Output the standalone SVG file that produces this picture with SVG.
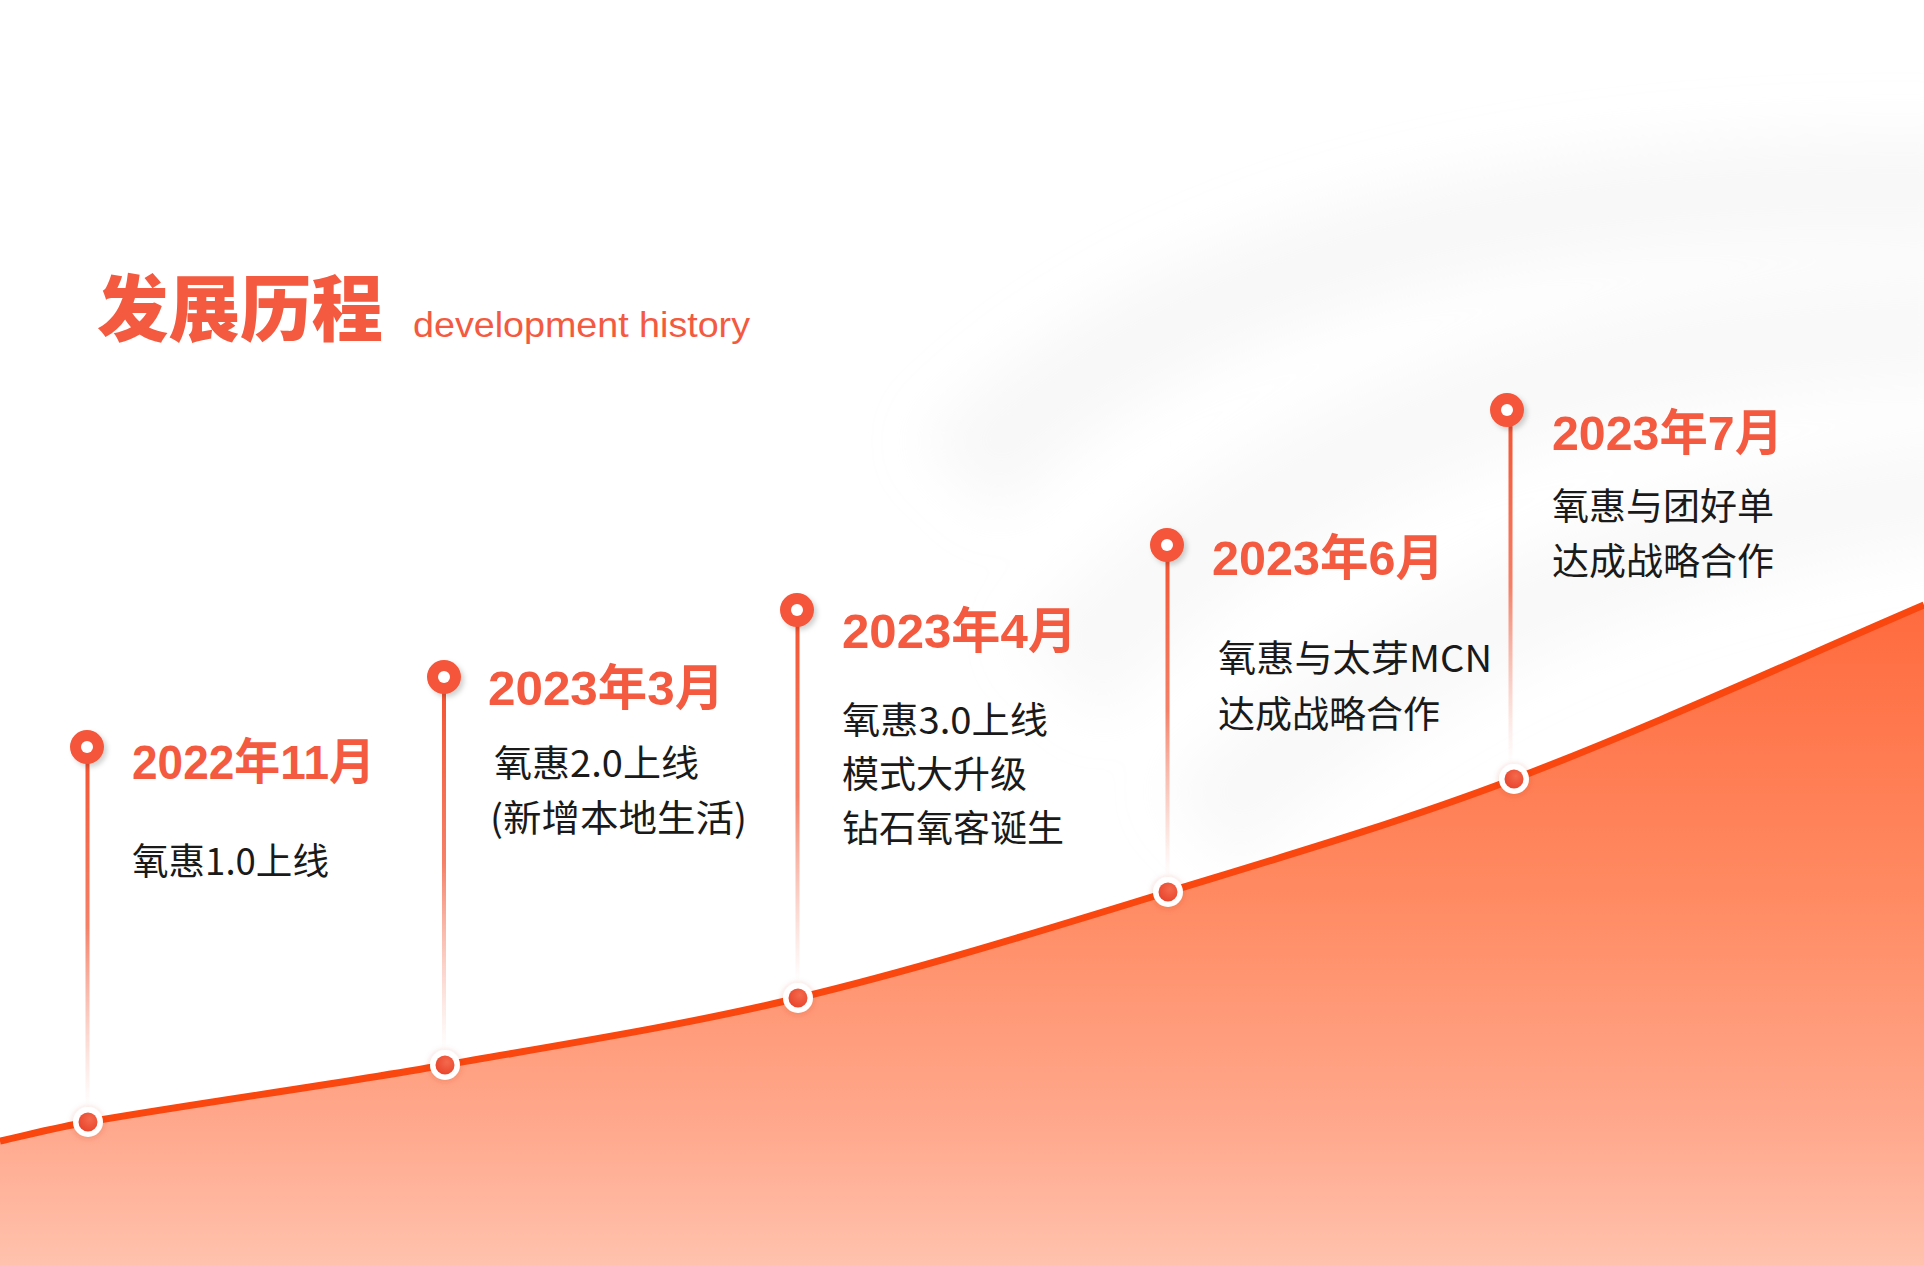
<svg xmlns="http://www.w3.org/2000/svg" width="1924" height="1265" viewBox="0 0 1924 1265">
  <defs>
    <style>
      .title { font-family: "Noto Sans CJK SC", "Liberation Sans", sans-serif; font-weight: 900; font-size: 72px; fill: #F35A3F; }
      .subtitle { font-family: "Liberation Sans", "Noto Sans", sans-serif; font-weight: 400; font-size: 35px; fill: #F35A3F; }
      .date { font-family: "Liberation Sans", "Noto Sans CJK SC", sans-serif; font-weight: 700; font-size: 49px; fill: #F35A3F; }
      .desc { font-family: "Noto Sans CJK SC", "Liberation Sans", sans-serif; font-weight: 400; font-size: 37px; fill: #1A1A1A; }
      .pin { fill: #F4553A; }
      .hole { fill: #FFFFFF; }
      .ring { fill: #FFFFFF; }
      .stem { fill: url(#stemGrad); }
    </style>
    <linearGradient id="areaGrad" x1="0" y1="600" x2="0" y2="1265" gradientUnits="userSpaceOnUse">
      <stop offset="0" stop-color="#FF6A3E"/>
      <stop offset="0.45" stop-color="#FF8B63"/>
      <stop offset="0.8" stop-color="#FFA98E"/>
      <stop offset="1" stop-color="#FFC2AD"/>
    </linearGradient>
    <linearGradient id="stemGrad" x1="0" y1="0" x2="0" y2="1">
      <stop offset="0" stop-color="#F4502D" stop-opacity="1"/>
      <stop offset="0.5" stop-color="#F46A4C" stop-opacity="0.85"/>
      <stop offset="1" stop-color="#F7A08C" stop-opacity="0"/>
    </linearGradient>
    <radialGradient id="dotGrad" cx="0.6" cy="0.35" r="0.7">
      <stop offset="0" stop-color="#F4694C"/>
      <stop offset="1" stop-color="#E8442C"/>
    </radialGradient>
    <filter id="pinShadow" x="-50%" y="-50%" width="200%" height="200%">
      <feDropShadow dx="3" dy="3" stdDeviation="2.5" flood-color="#000000" flood-opacity="0.18"/>
    </filter>
    <filter id="ringShadow" x="-60%" y="-60%" width="220%" height="220%">
      <feDropShadow dx="0" dy="1" stdDeviation="3" flood-color="#C03010" flood-opacity="0.25"/>
    </filter>
    <filter id="soft" x="-30%" y="-30%" width="160%" height="160%">
      <feGaussianBlur stdDeviation="28"/>
    </filter>
  </defs>

  <!-- background -->
  <rect x="0" y="0" width="1924" height="1265" fill="#FFFFFF"/>
  <g id="background-swoosh" filter="url(#soft)" fill="none">
    <path d="M960,480 Q1250,170 1980,190" stroke="#E9E9E9" stroke-width="110" opacity="0.3"/>
    <path d="M1060,680 Q1380,330 1980,330" stroke="#EAEAEA" stroke-width="120" opacity="0.3"/>
    <path d="M1200,830 Q1520,530 1980,490" stroke="#EBEBEB" stroke-width="110" opacity="0.28"/>
  </g>

  <!-- area under curve -->
  <g id="area">
    <path d="M0,1141 C29.3,1134.5 58.7,1127 88,1122 C207,1101.7 326,1085.8 445,1065 C562.7,1044.4 680.3,1026.1 798,998 C921.3,968.5 1044.7,929.7 1168,892 C1283.3,856.7 1398.7,822.8 1514,779 C1650.7,727.1 1787.3,663.8 1924,605 L1924,1265 L0,1265 Z" fill="url(#areaGrad)"/>
  </g>

  <!-- connectors: curve and stems -->
  <g id="connectors">
    <path d="M0,1141 C29.3,1134.5 58.7,1127 88,1122 C207,1101.7 326,1085.8 445,1065 C562.7,1044.4 680.3,1026.1 798,998 C921.3,968.5 1044.7,929.7 1168,892 C1283.3,856.7 1398.7,822.8 1514,779 C1650.7,727.1 1787.3,663.8 1924,605" fill="none" stroke="#F9470F" stroke-width="7"/>
    <rect class="stem" x="85.5" y="747" width="4" height="360"/>
    <rect class="stem" x="442" y="677" width="4" height="373"/>
    <rect class="stem" x="795.5" y="610" width="4" height="373"/>
    <rect class="stem" x="1165.5" y="545" width="4" height="333"/>
    <rect class="stem" x="1508.5" y="410" width="4" height="354"/>
  </g>

  <!-- title -->
  <g id="title">
    <text class="title" x="97" y="335" textLength="286" lengthAdjust="spacingAndGlyphs">发展历程</text>
    <text class="subtitle" x="413" y="337" textLength="337" lengthAdjust="spacingAndGlyphs">development history</text>
  </g>

  <!-- node 1 -->
  <g id="node-2022-11">
    <circle class="pin" cx="87" cy="747" r="17" filter="url(#pinShadow)"/>
    <circle class="hole" cx="87" cy="747" r="6"/>
    <circle class="ring" cx="88" cy="1122" r="15" filter="url(#ringShadow)"/>
    <circle cx="88" cy="1122" r="9.5" fill="url(#dotGrad)"/>
    <text class="date" x="132" y="779" textLength="243" lengthAdjust="spacingAndGlyphs">2022年11月</text>
    <text class="desc" x="132" y="875" textLength="197" lengthAdjust="spacingAndGlyphs">氧惠1.0上线</text>
  </g>

  <!-- node 2 -->
  <g id="node-2023-03">
    <circle class="pin" cx="444" cy="677" r="17" filter="url(#pinShadow)"/>
    <circle class="hole" cx="444" cy="677" r="6"/>
    <circle class="ring" cx="445" cy="1065" r="15" filter="url(#ringShadow)"/>
    <circle cx="445" cy="1065" r="9.5" fill="url(#dotGrad)"/>
    <text class="date" x="488" y="705" textLength="236" lengthAdjust="spacingAndGlyphs">2023年3月</text>
    <text class="desc" x="494" y="777" textLength="205" lengthAdjust="spacingAndGlyphs">氧惠2.0上线</text>
    <text class="desc" x="490" y="832" textLength="257" lengthAdjust="spacingAndGlyphs">(新增本地生活)</text>
  </g>

  <!-- node 3 -->
  <g id="node-2023-04">
    <circle class="pin" cx="797" cy="610" r="17" filter="url(#pinShadow)"/>
    <circle class="hole" cx="797" cy="610" r="6"/>
    <circle class="ring" cx="798" cy="998" r="15" filter="url(#ringShadow)"/>
    <circle cx="798" cy="998" r="9.5" fill="url(#dotGrad)"/>
    <text class="date" x="842" y="648" textLength="235" lengthAdjust="spacingAndGlyphs">2023年4月</text>
    <text class="desc" x="842" y="734" textLength="206" lengthAdjust="spacingAndGlyphs">氧惠3.0上线</text>
    <text class="desc" x="842" y="788">模式大升级</text>
    <text class="desc" x="842" y="842">钻石氧客诞生</text>
  </g>

  <!-- node 4 -->
  <g id="node-2023-06">
    <circle class="pin" cx="1167" cy="545" r="17" filter="url(#pinShadow)"/>
    <circle class="hole" cx="1167" cy="545" r="6"/>
    <circle class="ring" cx="1168" cy="892" r="15" filter="url(#ringShadow)"/>
    <circle cx="1168" cy="892" r="9.5" fill="url(#dotGrad)"/>
    <text class="date" x="1212" y="575" textLength="232" lengthAdjust="spacingAndGlyphs">2023年6月</text>
    <text class="desc" x="1218" y="672" textLength="274" lengthAdjust="spacingAndGlyphs">氧惠与太芽MCN</text>
    <text class="desc" x="1218" y="728">达成战略合作</text>
  </g>

  <!-- node 5 -->
  <g id="node-2023-07">
    <circle class="pin" cx="1507" cy="410" r="17" filter="url(#pinShadow)"/>
    <circle class="hole" cx="1507" cy="410" r="6"/>
    <circle class="ring" cx="1514" cy="779" r="15" filter="url(#ringShadow)"/>
    <circle cx="1514" cy="779" r="9.5" fill="url(#dotGrad)"/>
    <text class="date" x="1552" y="450" textLength="231" lengthAdjust="spacingAndGlyphs">2023年7月</text>
    <text class="desc" x="1552" y="520">氧惠与团好单</text>
    <text class="desc" x="1552" y="575">达成战略合作</text>
  </g>
</svg>
